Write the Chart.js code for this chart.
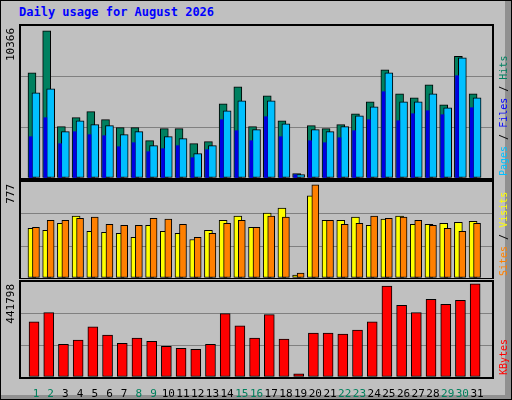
<!DOCTYPE html>
<html><head><meta charset="utf-8">
<script src="https://cdn.jsdelivr.net/npm/chart.js@4"></script>
<style>
body{margin:0;background:#fff}
#wrap{position:relative;width:510px;height:398px;background:#c0c0c0;border:1px solid #000;overflow:hidden}
#edge{position:absolute;left:504px;top:0;width:6px;height:398px;background:#909090}
#edgeb{position:absolute;left:0;top:394px;width:510px;height:4px;background:#909090}
#title{position:absolute;left:18px;top:4px;font:bold 12px "DejaVu Sans Mono",monospace;color:#0000ff}
canvas{position:absolute;left:0}
</style></head><body>
<div id="wrap"><div id="edge"></div><div id="edgeb"></div>
<div id="title">Daily usage for August 2026</div>
<canvas id="c1" width="512" height="160" style="top:20px"></canvas>
<canvas id="c2" width="512" height="100" style="top:178px"></canvas>
<canvas id="c3" width="512" height="120" style="top:278px"></canvas>
</div>
<script>
const days = [1,2,3,4,5,6,7,8,9,10,11,12,13,14,15,16,17,18,19,20,21,22,23,24,25,26,27,28,29,30,31];
const weekend = [1,2,8,9,15,16,22,23,29,30];
const hits = [7410,10366,3611,4245,4667,4104,3541,3541,2626,3471,3471,2415,2556,5229,6425,3611,5792,4033,305,3682,3471,3752,4526,5370,7621,5933,5651,6566,5159,8559,5933];
const files = [6003,6285,3260,4033,3752,3682,3049,3260,2275,2908,2767,1712,2275,4737,5440,3400,5440,3822,235,3400,3260,3611,4385,5018,7410,5370,5370,5933,4948,8465,5651];
const pages = [2908,4245,2415,3260,3049,2978,2204,2486,1853,2064,2275,1430,1993,4104,3330,2626,4315,2908,235,2626,2486,2837,3330,4104,6074,4033,4526,4737,4456,7199,4948];
const sites = [414,397,456,515,388,380,372,338,439,388,372,321,397,481,515,422,540,583,25,684,481,481,507,439,490,515,448,448,456,464,473];
const visits = [422,481,481,498,507,448,439,439,498,490,448,338,372,456,481,422,515,507,42,777,481,448,456,515,498,507,481,439,414,388,456];
const kbytes = [262116,305802,155328,174744,237846,199014,160182,184452,169890,145620,135912,131058,155328,300948,242700,184452,296094,179598,14562,208722,208722,203868,223284,262116,432006,339780,305802,368904,344634,364050,441798];

const FONT = '"DejaVu Sans Mono", monospace';
const pts = (arr, off) => arr.map((v, i) => ({x: days[i] + off, y: v}));

function sideLabels(parts, maxLabel) {
  return {
    id: 'side',
    afterDraw(chart) {
      const ctx = chart.ctx, a = chart.chartArea;
      ctx.save();
      ctx.strokeStyle = '#000'; ctx.lineWidth = 2;
      ctx.strokeRect(a.left - 1, a.top - 1, a.right - a.left + 2, a.bottom - a.top + 2);
      ctx.font = '10px ' + FONT;
      // right side title, bottom to top
      ctx.translate(a.right + 12, a.bottom - 2);
      ctx.rotate(-Math.PI / 2);
      ctx.textBaseline = 'middle'; ctx.textAlign = 'left';
      let x = 0;
      parts.forEach(([t, c]) => { ctx.fillStyle = c; ctx.fillText(t, x, 0); x += ctx.measureText(t).width; });
      ctx.restore();
      ctx.save();
      ctx.font = '11px ' + FONT;
      ctx.translate(a.left - 10, a.top + 2);
      ctx.rotate(-Math.PI / 2);
      ctx.textAlign = 'right'; ctx.textBaseline = 'middle'; ctx.fillStyle = '#000';
      ctx.fillText(maxLabel, 0, 0);
      ctx.restore();
    }
  };
}

function makeChart(id, datasets, ymax, parts, maxLabel, showX, pad) {
  return new Chart(document.getElementById(id), {
    type: 'bar',
    data: {datasets},
    options: {
      responsive: false, animation: false,
      layout: {padding: pad},
      plugins: {legend: {display: false}, tooltip: {enabled: false}},
      datasets: {bar: {grouped: false, borderColor: '#000', borderWidth: 1, borderSkipped: false}},
      scales: {
        x: {
          type: 'linear', min: 0.5, max: 31.5, display: showX,
          grid: {display: false}, border: {display: false},
          afterBuildTicks: s => { s.ticks = days.map(v => ({value: v})); },
          afterFit: s => { if (showX) s.height = 20; },
          ticks: {
            autoSkip: false, maxRotation: 0, padding: 3,
            font: {family: FONT, size: 11},
            color: c => weekend.includes(c.tick.value) ? '#00805c' : '#000'
          }
        },
        y: {
          min: 0, max: ymax,
          ticks: {display: false, stepSize: ymax / 3},
          grid: {color: c => c.tick.value > 0 && c.tick.value < ymax ? '#808080' : 'rgba(0,0,0,0)', lineWidth: 1, drawTicks: false},
          border: {display: false}
        }
      }
    },
    plugins: [sideLabels(parts, maxLabel)]
  });
}

makeChart('c1', [
  {data: pts(hits, -0.27), backgroundColor: '#008060', barThickness: 8, order: 3},
  {data: pts(files, 0), backgroundColor: '#00c0ff', barThickness: 8, order: 2},
  {data: pts(pages, -0.36), backgroundColor: '#0000e0', barThickness: 3, borderWidth: 0, order: 1}
], 10700, [['Pages', '#00c0ff'], [' / ', '#000'], ['Files', '#0000ff'], [' / ', '#000'], ['Hits', '#008060']], '10366', false,
  {left: 20, right: 21, top: 5, bottom: 3});

makeChart('c2', [
  {data: pts(sites, -0.27), backgroundColor: '#ffff00', barThickness: 8, order: 2},
  {data: pts(visits, 0), backgroundColor: '#ff8000', barThickness: 7, order: 1}
], 800, [['Sites', '#ff8000'], [' / ', '#000'], ['Visits', '#ffff00']], '777', false,
  {left: 20, right: 21, top: 3, bottom: 1});

makeChart('c3', [
  {data: pts(kbytes, -0.13), backgroundColor: '#ff0000', barThickness: 10}
], 451000, [['KBytes', '#ff0000']], '441798', true,
  {left: 20, right: 21, top: 3, bottom: 2});
</script>
</body></html>
